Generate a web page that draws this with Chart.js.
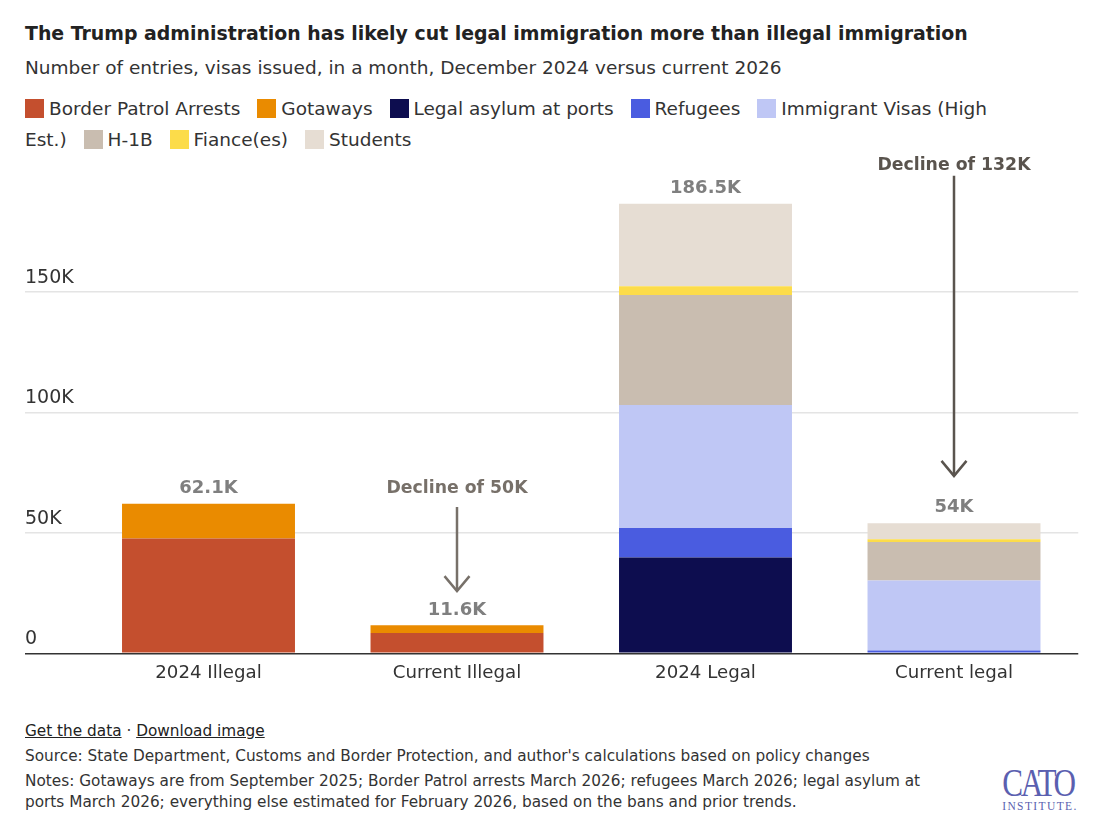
<!DOCTYPE html>
<html>
<head>
<meta charset="utf-8">
<script src="https://cdn.jsdelivr.net/npm/chart.js@4.4.1/dist/chart.umd.min.js"></script>
<style>
  html, body { margin: 0; padding: 0; background: #fff; }
  body { width: 1099px; height: 838px; position: relative; overflow: hidden; font-family: "DejaVu Sans", sans-serif; color: #333; }
  #title { position: absolute; left: 25px; top: 20px; font-size: 18.9px; font-weight: 700; color: #222; line-height: 26px; white-space: nowrap; }
  #subtitle { position: absolute; left: 25px; top: 56px; font-size: 18.5px; color: #333; line-height: 24px; white-space: nowrap; }
  #legend { position: absolute; left: 25px; top: 93px; width: 985px; font-size: 18.5px; line-height: 31px; color: #333; }
  #legend .sw { display: inline-block; width: 19px; height: 19px; vertical-align: -3px; margin-right: 5px; }
  #legend .gap { display: inline-block; width: 11px; }
  #wrap { position: absolute; left: 0; top: 150px; width: 1099px; height: 560px; }
  #footer { position: absolute; left: 25px; top: 721px; font-family: "DejaVu Sans", sans-serif; font-size: 15.3px; color: #333; line-height: 21px; }
  #footer div + div { margin-top: 4px; }
  #footer a { color: #222; text-decoration: underline; }
  #logo { position: absolute; left: 990px; top: 764px; width: 96px; text-align: center; color: #5b5fb0; font-family: "Liberation Serif", "DejaVu Serif", serif; }
  #logo .c { font-size: 39px; line-height: 37px; letter-spacing: -3px; transform: scaleX(0.8); display: block; }
  #logo .i { font-size: 11.5px; line-height: 10px; letter-spacing: 1.4px; display: block; margin-left: 4px; }
</style>
</head>
<body>
<div id="title">The Trump administration has likely cut legal immigration more than illegal immigration</div>
<div id="subtitle">Number of entries, visas issued, in a month, December 2024 versus current 2026</div>
<div id="legend"></div>
<div id="wrap"><canvas id="chart" width="1099" height="560"></canvas></div>
<div id="footer">
  <div><a>Get the data</a> · <a>Download image</a></div>
  <div>Source: State Department, Customs and Border Protection, and author's calculations based on policy changes</div>
  <div style="width:925px">Notes: Gotaways are from September 2025; Border Patrol arrests March 2026; refugees March 2026; legal asylum at ports March 2026; everything else estimated for February 2026, based on the bans and prior trends.</div>
</div>
<div id="logo"><span class="c">CATO</span><span class="i">INSTITUTE.</span></div>

<script>
// ---- Data ----
const categories = ["2024 Illegal", "Current Illegal", "2024 Legal", "Current legal"];
const seriesNames = ["Border Patrol Arrests", "Gotaways", "Legal asylum at ports", "Refugees", "Immigrant Visas (High Est.)", "H-1B", "Fiance(es)", "Students"];
const seriesColors = ["#c44f2e", "#ea8b00", "#0d0d4f", "#4a5ce0", "#bfc7f5", "#c9bdb0", "#fcdc4a", "#e6ddd3"];
const borderPatrolArrests = [47600, 8400, null, null];
const gotaways = [14500, 3200, null, null];
const legalAsylum = [null, null, 39700, 0];
const refugees = [null, null, 12300, 1200];
const immigrantVisas = [null, null, 51000, 29000];
const h1b = [null, null, 45700, 16000];
const fiances = [null, null, 3600, 1100];
const students = [null, null, 34200, 6700];
const yTickValues = [0, 50000, 100000, 150000];
const yTickLabels = ["0", "50K", "100K", "150K"];
const declineNotes = [
  { category: 1, text: "Decline of 50K", textAt: 68200, arrowFrom: 60700, arrowTo: 25800, color: "#777069" },
  { category: 3, text: "Decline of 132K", textAt: 202600, arrowFrom: 198200, arrowTo: 73600, color: "#5a544e" }
];

const seriesValues = [borderPatrolArrests, gotaways, legalAsylum, refugees, immigrantVisas, h1b, fiances, students];
const FONT = '"DejaVu Sans", sans-serif';

// ---- HTML legend built from series ----
document.getElementById('legend').innerHTML = seriesNames.map((n, i) =>
  '<span class="sw" style="background:' + seriesColors[i] + '"></span>' + n + '<span class="gap"></span>'
).join(' ');

function fmtK(v) {
  const s = (Math.round(v / 100) / 10).toFixed(1);
  return (s.endsWith('.0') ? s.slice(0, -2) : s) + 'K';
}

const annotationPlugin = {
  id: 'annot',
  afterDatasetsDraw(chart) {
    const ctx = chart.ctx;
    const xs = chart.scales.x, ys = chart.scales.y;
    ctx.save();
    ctx.textAlign = 'center';
    ctx.textBaseline = 'middle';
    ctx.font = 'bold 18px ' + FONT;
    ctx.fillStyle = '#7f7f7f';
    categories.forEach((c, i) => {
      let t = 0;
      seriesValues.forEach(s => { if (s[i] != null) t += s[i]; });
      ctx.fillText(fmtK(t), xs.getPixelForValue(i), ys.getPixelForValue(t) - 15.5);
    });
    declineNotes.forEach(a => {
      const x = xs.getPixelForValue(a.category);
      ctx.fillStyle = a.color;
      ctx.strokeStyle = a.color;
      ctx.font = 'bold 17.3px ' + FONT;
      ctx.fillText(a.text, x, ys.getPixelForValue(a.textAt));
      const y1 = ys.getPixelForValue(a.arrowFrom), y2 = ys.getPixelForValue(a.arrowTo);
      ctx.lineWidth = 2.5;
      ctx.beginPath();
      ctx.moveTo(x, y1); ctx.lineTo(x, y2);
      ctx.stroke();
      ctx.beginPath();
      ctx.moveTo(x - 12.5, y2 - 15); ctx.lineTo(x, y2); ctx.lineTo(x + 12.5, y2 - 15);
      ctx.stroke();
    });
    ctx.restore();
  }
};

new Chart(document.getElementById('chart'), {
  type: 'bar',
  data: {
    labels: categories,
    datasets: seriesNames.map((n, i) => ({
      label: n,
      data: seriesValues[i],
      backgroundColor: seriesColors[i],
      borderWidth: 0,
      categoryPercentage: 1,
      barPercentage: 0.696
    }))
  },
  options: {
    responsive: false,
    animation: false,
    devicePixelRatio: 1,
    layout: { padding: { left: 25, right: 20.75, top: 21.3, bottom: 16.7 } },
    plugins: { legend: { display: false }, tooltip: { enabled: false } },
    scales: {
      x: {
        stacked: true,
        grid: { display: false, drawTicks: false },
        border: { display: false },
        ticks: { color: '#333', font: { family: FONT, size: 18.2 }, padding: 9, maxRotation: 0 },
        afterFit(s) { s.height = 40; }
      },
      y: {
        stacked: true,
        min: 0,
        max: 200000,
        afterBuildTicks(s) { s.ticks = yTickValues.map(v => ({ value: v })); },
        afterFit(s) { s.width = 59.25; },
        border: { display: false },
        grid: {
          drawTicks: true,
          tickLength: 59.25,
          lineWidth: 1.5,
          color: c => (c.tick && c.tick.value === 0) ? '#333' : '#e4e4e4',
          tickColor: c => (c.tick && c.tick.value === 0) ? '#333' : '#e4e4e4'
        },
        ticks: {
          crossAlign: 'far',
          padding: 0,
          labelOffset: -14,
          color: '#333',
          font: { family: FONT, size: 19 },
          callback: (v) => { const k = yTickValues.indexOf(v); return k >= 0 ? yTickLabels[k] : ''; }
        }
      }
    }
  },
  plugins: [annotationPlugin]
});
</script>
</body>
</html>
